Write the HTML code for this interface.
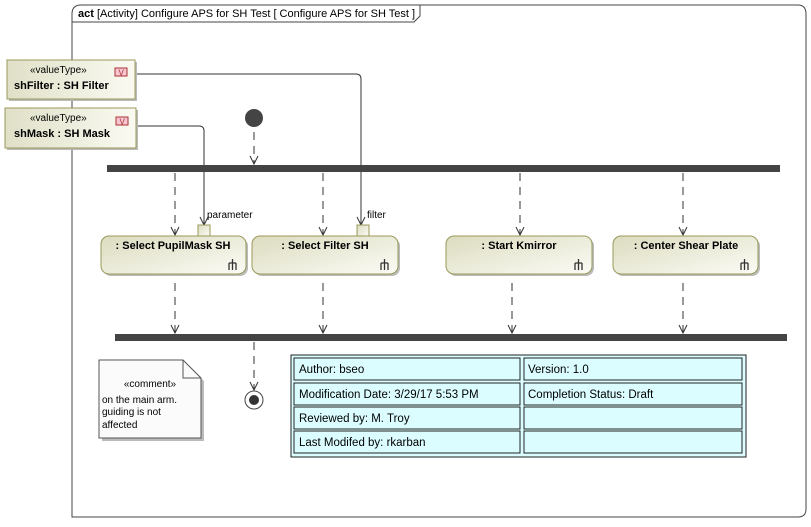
<!DOCTYPE html>
<html><head><meta charset="utf-8"><style>
html,body{margin:0;padding:0;background:#fff;}
svg text{font-family:"Liberation Sans",Arial,sans-serif;}
</style></head><body>
<svg width="811" height="522" viewBox="0 0 811 522" xmlns="http://www.w3.org/2000/svg">
<defs>
<linearGradient id="g" x1="0" y1="0" x2="1" y2="1">
<stop offset="0" stop-color="#dcdcc0"/><stop offset="1" stop-color="#fbfbf5"/>
</linearGradient>
<linearGradient id="gv" x1="0" y1="0" x2="1" y2="0">
<stop offset="0" stop-color="#e0e0c8"/><stop offset="1" stop-color="#fafaf2"/>
</linearGradient>
<marker id="a" markerWidth="12" markerHeight="12" refX="9" refY="5" orient="auto" markerUnits="userSpaceOnUse">
<path d="M1,1 L9,5 L1,9" fill="none" stroke="#333" stroke-width="1" stroke-dasharray="none"/>
</marker>
</defs>
<!-- frame -->
<path d="M72,517 L72,14 Q72,5 81,5 L798,5 Q806,5 806,14 L806,509 Q806,517 798,517 Z" fill="#fff" stroke="#444" stroke-width="1"/>
<path d="M72,22 L414,22 L420,16 L420,5" fill="none" stroke="#444"/>
<text x="78" y="17" font-size="11"><tspan font-weight="bold">act</tspan> [Activity] Configure APS for SH Test [ Configure APS for SH Test ]</text>

<!-- object flows -->
<path d="M137,74 L356,74 Q361,74 361,79 L361,225" fill="none" stroke="#333" marker-end="url(#a)"/>
<path d="M138,126 L199,126 Q204,126 204,131 L204,225" fill="none" stroke="#333" marker-end="url(#a)"/>

<!-- value types -->
<rect x="9" y="62" width="128" height="39" fill="#bbb"/>
<rect x="7" y="60" width="128" height="39" fill="url(#gv)" stroke="#99995a"/>
<text x="30" y="73" font-size="10">«valueType»</text>
<text x="14" y="89" font-size="11" font-weight="bold">shFilter : SH Filter</text>
<rect x="115" y="68" width="12" height="8" fill="#f7c6d0" stroke="#a33"/>
<text x="118.5" y="75.5" font-size="8" fill="#a33">V</text>
<rect x="7" y="110" width="131" height="40" fill="#bbb"/>
<rect x="5" y="108" width="131" height="40" fill="url(#gv)" stroke="#99995a"/>
<text x="30" y="121" font-size="10">«valueType»</text>
<text x="14" y="137" font-size="11" font-weight="bold">shMask : SH Mask</text>
<rect x="116" y="117" width="12" height="8" fill="#f7c6d0" stroke="#a33"/>
<text x="119.5" y="124.5" font-size="8" fill="#a33">V</text>

<!-- initial -->
<circle cx="254" cy="118" r="9" fill="#444"/>
<line x1="254" y1="132" x2="254" y2="164" stroke="#333" stroke-dasharray="8,6" marker-end="url(#a)"/>

<!-- fork -->
<rect x="107" y="165" width="673" height="7" fill="#444"/>
<g stroke="#333" stroke-dasharray="8,6" fill="none">
<line x1="175" y1="173" x2="175" y2="235" marker-end="url(#a)"/>
<line x1="323" y1="173" x2="323" y2="235" marker-end="url(#a)"/>
<line x1="520" y1="173" x2="520" y2="235" marker-end="url(#a)"/>
<line x1="683" y1="173" x2="683" y2="235" marker-end="url(#a)"/>
<line x1="175" y1="283" x2="175" y2="333" marker-end="url(#a)"/>
<line x1="323" y1="283" x2="323" y2="333" marker-end="url(#a)"/>
<line x1="512" y1="283" x2="512" y2="333" marker-end="url(#a)"/>
<line x1="683" y1="283" x2="683" y2="333" marker-end="url(#a)"/>
<line x1="254" y1="342" x2="254" y2="390" marker-end="url(#a)"/>
</g>

<!-- pins -->
<rect x="198" y="225" width="12" height="11" fill="url(#g)" stroke="#99995a"/>
<text x="207" y="218" font-size="10">parameter</text>
<rect x="357" y="225" width="12" height="11" fill="url(#g)" stroke="#99995a"/>
<text x="367" y="218" font-size="10">filter</text>

<!-- actions -->
<g font-size="11" font-weight="bold" text-anchor="middle">
<rect x="103" y="238" width="145" height="38" rx="8" fill="#bbb"/>
<rect x="101" y="236" width="145" height="38" rx="8" fill="url(#g)" stroke="#99995a"/>
<text x="173" y="249">: Select PupilMask SH</text>
<rect x="254" y="238" width="146" height="38" rx="8" fill="#bbb"/>
<rect x="252" y="236" width="146" height="38" rx="8" fill="url(#g)" stroke="#99995a"/>
<text x="325" y="249">: Select Filter SH</text>
<rect x="448" y="238" width="146" height="38" rx="8" fill="#bbb"/>
<rect x="446" y="236" width="146" height="38" rx="8" fill="url(#g)" stroke="#99995a"/>
<text x="519" y="249">: Start Kmirror</text>
<rect x="615" y="238" width="145" height="38" rx="8" fill="#bbb"/>
<rect x="613" y="236" width="145" height="38" rx="8" fill="url(#g)" stroke="#99995a"/>
<text x="686" y="249">: Center Shear Plate</text>
</g>
<g stroke="#333" stroke-width="1.3" fill="none">
<path d="M229,263 L236,263 M232.5,259 L232.5,270 M229,263 L229,270 M236,263 L236,270"/>
<path d="M381,263 L388,263 M384.5,259 L384.5,270 M381,263 L381,270 M388,263 L388,270"/>
<path d="M575,263 L582,263 M578.5,259 L578.5,270 M575,263 L575,270 M582,263 L582,270"/>
<path d="M741,263 L748,263 M744.5,259 L744.5,270 M741,263 L741,270 M748,263 L748,270"/>
</g>

<!-- join -->
<rect x="115" y="334" width="672" height="7" fill="#444"/>

<!-- final -->
<circle cx="254" cy="400" r="9" fill="#fff" stroke="#444"/>
<circle cx="254" cy="400" r="5" fill="#333"/>

<!-- comment -->
<path d="M102,363 L186,363 L204,381 L204,441 L102,441 Z" fill="#bbb"/>
<path d="M99,360 L183,360 L201,378 L201,438 L99,438 Z" fill="#fbfbfb" stroke="#555"/>
<path d="M183,360 L183,378 L201,378" fill="none" stroke="#555"/>
<text x="150" y="387" font-size="10" text-anchor="middle">«comment»</text>
<text x="102" y="403" font-size="10">on the main arm.</text>
<text x="102" y="415" font-size="10">guiding is not</text>
<text x="102" y="428" font-size="10">affected</text>

<!-- table -->
<rect x="291" y="355" width="455" height="102" fill="#dcfdff" stroke="#222"/>
<g fill="#dcfdff" stroke="#222">
<rect x="294" y="358" width="226" height="22"/><rect x="524" y="358" width="218" height="22"/>
<rect x="294" y="383" width="226" height="22"/><rect x="524" y="383" width="218" height="22"/>
<rect x="294" y="407" width="226" height="22"/><rect x="524" y="407" width="218" height="22"/>
<rect x="294" y="431" width="226" height="22"/><rect x="524" y="431" width="218" height="22"/>
</g>
<g font-size="11.5">
<text x="299" y="373">Author: bseo</text><text x="528" y="373">Version: 1.0</text>
<text x="299" y="398">Modification Date: 3/29/17 5:53 PM</text><text x="528" y="398">Completion Status: Draft</text>
<text x="299" y="422">Reviewed by: M. Troy</text>
<text x="299" y="446">Last Modifed by: rkarban</text>
</g>
</svg>
</body></html>
